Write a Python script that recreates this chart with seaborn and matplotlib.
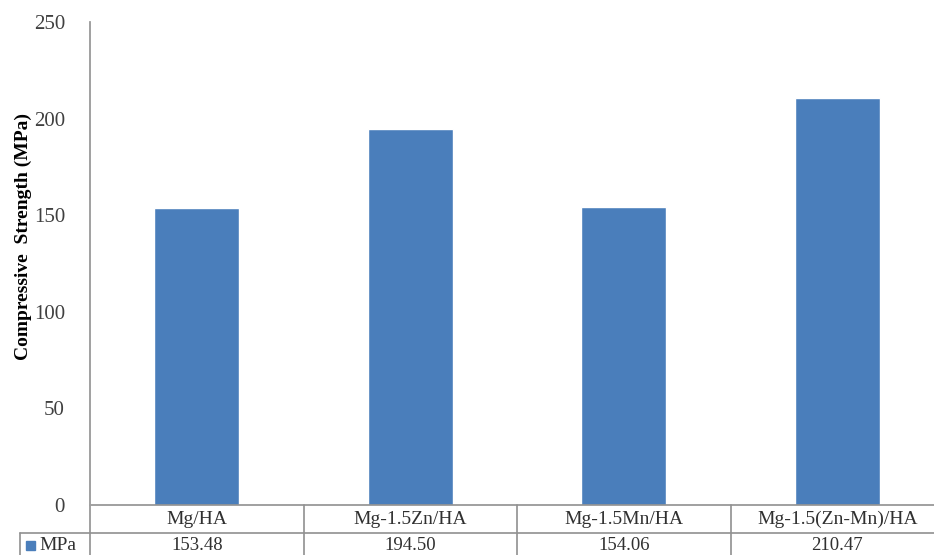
import matplotlib
matplotlib.use('Agg')
import matplotlib.pyplot as plt
import matplotlib.patches as mpatches
import pandas as pd
import seaborn as sns

categories = ['Mg/HA', 'Mg-1.5Zn/HA', 'Mg-1.5Mn/HA', 'Mg-1.5(Zn-Mn)/HA']
strength = [153.48, 194.50, 154.06, 210.47]
value_labels = ['153.48', '194.50', '154.06', '210.47']
series_name = 'MPa'

df = pd.DataFrame({'alloy': categories, 'strength': strength})

sns.set_style('white')
plt.rcParams['font.family'] = ['Liberation Serif', 'DejaVu Serif']

W, H = 934, 555
fig = plt.figure(figsize=(W / 100, H / 100), dpi=100)
x0, x1, ytop, yzero = 90, 934, 22, 505
ax = fig.add_axes([x0 / W, (H - yzero) / H, (x1 - x0) / W, (yzero - ytop) / H])

bar_color = '#4A7EBB'
sns.barplot(data=df, x='alloy', y='strength', color=bar_color, width=0.4,
            saturation=1, ax=ax)

col_w = 213.5
ax.set_xlim(-0.5, -0.5 + (x1 - x0) / col_w)
ax.set_ylim(0, 250)
ax.set_yticks([0, 50, 100, 150, 200, 250])
ax.tick_params(axis='y', length=0, pad=18, labelsize=15, labelcolor='#404040')
ax.set_xticks([])
ax.set_xlabel('')
ax.set_ylabel('Compressive  Strength (MPa)', fontsize=14, fontweight='bold',
              color='black')
ax.yaxis.set_label_coords(-58 / (x1 - x0), 0.555)
for s in ['top', 'right', 'bottom']:
    ax.spines[s].set_visible(False)
ax.spines['left'].set_color('#A0A0A0')
ax.spines['left'].set_linewidth(1.2)
ax.spines['left'].set_bounds(0, 250)

# data table below the axes
line_c = '#909090'
tr = ax.get_xaxis_transform()
px = 1 / (yzero - ytop)  # one pixel in axes fraction
row1 = -28 * px
row2 = -60 * px
ax.plot([-0.5, 4], [0, 0], color=line_c, lw=1.2, transform=tr, clip_on=False)
ax.plot([-0.5 - 70 / col_w, 4], [row1, row1], color=line_c, lw=1.2,
        transform=tr, clip_on=False)
for xs in [-0.5, 0.5, 1.5, 2.5]:
    ax.plot([xs, xs], [0, row2], color=line_c, lw=1.2, transform=tr,
            clip_on=False)
ax.plot([-0.5, -0.5], [0, 1], color='#A0A0A0', lw=1.2, transform=tr,
        clip_on=False)
xl = -0.5 - 70 / col_w
ax.plot([xl, xl], [row1, row2], color=line_c, lw=1.2, transform=tr,
        clip_on=False)

for i, (c, v) in enumerate(zip(categories, value_labels)):
    ax.text(i, -14 * px, c, transform=tr, ha='center', va='center',
            fontsize=14, color='#303030', clip_on=False)
    ax.text(i, -41 * px, v, transform=tr, ha='center', va='center',
            fontsize=13.5, color='#303030', clip_on=False)

fig.patches.append(mpatches.Rectangle((26 / W, (H - 550) / H), 9 / W, 9 / H,
                                      color=bar_color, transform=fig.transFigure))
fig.text(39 / W, (H - 545) / H, series_name, ha='left', va='center',
         fontsize=14, color='#303030')

fig.savefig('out.png', dpi=100)
